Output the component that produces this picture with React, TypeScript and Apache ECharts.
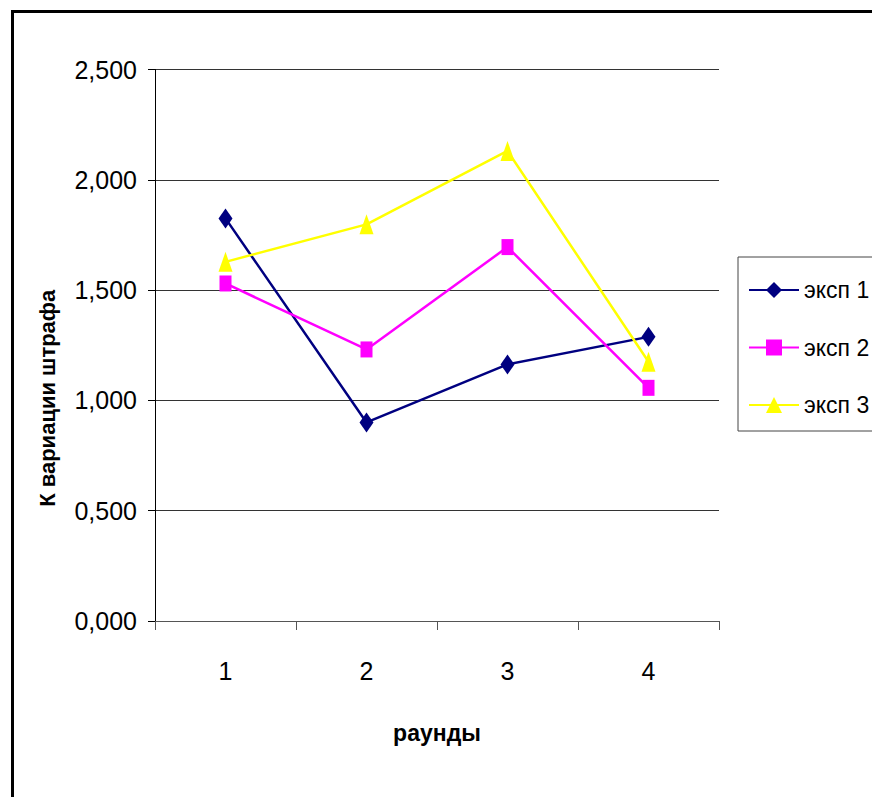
import React, { useEffect, useRef } from "react";
import * as echarts from "echarts";

const categories = ["1", "2", "3", "4"];
const seriesNames = ["эксп 1", "эксп 2", "эксп 3"];
const exp1 = [1.825, 0.9, 1.163, 1.288];
const exp2 = [1.53, 1.231, 1.695, 1.057];
const exp3 = [1.628, 1.798, 2.131, 1.175];
const yTitle = "К вариации штрафа";
const xTitle = "раунды";

const FONT = "'Liberation Sans', Arial, sans-serif";

export default function App() {
  const ref = useRef<HTMLDivElement>(null);
  useEffect(() => {
    if (!ref.current) return;
    const chart = echarts.init(ref.current, null, { renderer: "svg" });
    chart.setOption({
      animation: false,
      backgroundColor: "#ffffff",
      graphic: [
        {
          type: "rect",
          shape: { x: 12.5, y: 11.5, width: 960, height: 900 },
          style: { fill: "none", stroke: "#000", lineWidth: 3 },
          silent: true,
        },
      ],
      grid: { left: 155, top: 69.5, right: 153, bottom: 176, containLabel: false },
      legend: {
        orient: "vertical",
        left: 738,
        top: 257,
        data: seriesNames,
        itemWidth: 50,
        itemHeight: 20,
        itemGap: 29.5,
        padding: [19, 30, 12, 10],
        borderColor: "#444",
        borderWidth: 1,
        textStyle: { fontFamily: FONT, fontSize: 23, color: "#000", lineHeight: 28 },
      },
      xAxis: {
        type: "category",
        data: categories,
        boundaryGap: true,
        name: xTitle,
        nameLocation: "middle",
        nameGap: 100,
        nameTextStyle: { fontFamily: FONT, fontWeight: "bold", fontSize: 23, color: "#000" },
        axisLine: { lineStyle: { color: "#555", width: 1 } },
        axisTick: { show: true, length: 9, alignWithLabel: false, lineStyle: { color: "#555" } },
        axisLabel: { margin: 37, fontFamily: FONT, fontSize: 25, color: "#000" },
        splitLine: { show: false },
      },
      yAxis: {
        type: "value",
        min: 0,
        max: 2.5,
        interval: 0.5,
        name: yTitle,
        nameLocation: "middle",
        nameGap: 97,
        nameRotate: 90,
        nameTextStyle: {
          fontFamily: FONT,
          fontWeight: "bold",
          fontSize: 22,
          color: "#000",
          padding: [0, 106, 0, 0],
        },
        axisLine: { show: true, lineStyle: { color: "#000", width: 1 } },
        axisTick: { show: true, length: 7, lineStyle: { color: "#000" } },
        axisLabel: {
          margin: 18,
          fontFamily: FONT,
          fontSize: 25,
          color: "#000",
          formatter: (v: number) => v.toFixed(3).replace(".", ","),
        },
        splitLine: { show: true, lineStyle: { color: "#333", width: 1 } },
      },
      series: [
        {
          name: seriesNames[0],
          type: "line",
          data: exp1,
          symbol: "diamond",
          symbolSize: [14, 20],
          lineStyle: { color: "#000080", width: 2.5 },
          itemStyle: { color: "#000080" },
        },
        {
          name: seriesNames[1],
          type: "line",
          data: exp2,
          symbol: "rect",
          symbolSize: [12, 16],
          lineStyle: { color: "#ff00ff", width: 2.5 },
          itemStyle: { color: "#ff00ff" },
        },
        {
          name: seriesNames[2],
          type: "line",
          data: exp3,
          symbol: "triangle",
          symbolSize: [14, 20],
          lineStyle: { color: "#ffff00", width: 2.5 },
          itemStyle: { color: "#ffff00" },
        },
      ],
    });
    return () => chart.dispose();
  }, []);
  return (
    <div
      ref={ref}
      style={{ position: "fixed", left: 0, top: 0, width: 872, height: 797 }}
    />
  );
}
